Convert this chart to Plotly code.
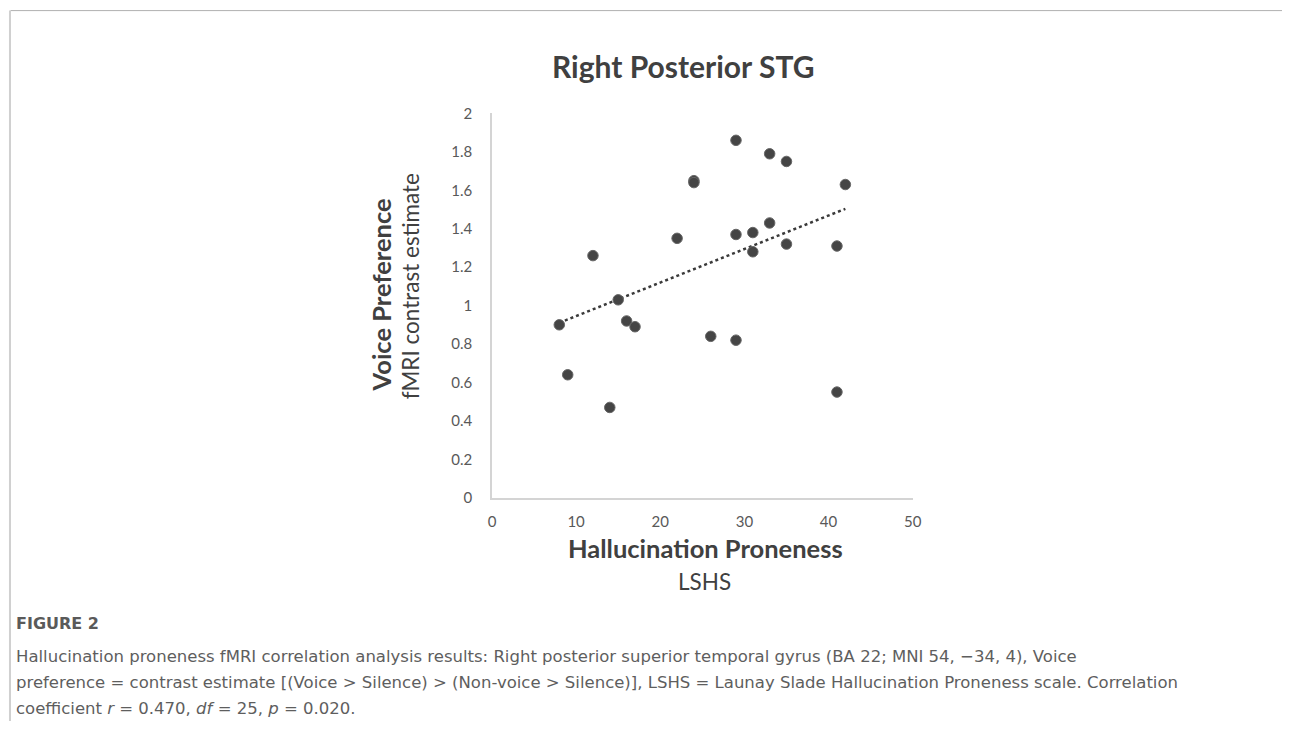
import plotly.graph_objects as go

W, H = 1291, 729

# ---- data ----
lshs = [8, 9, 12, 14, 15, 16, 17, 22, 24, 24, 26, 29, 29, 29, 31, 31, 33, 33, 35, 35, 41, 41, 42]
voice_pref = [0.90, 0.64, 1.26, 0.47, 1.03, 0.92, 0.89, 1.35, 1.65, 1.64, 0.84, 1.86, 1.37, 0.82,
              1.38, 1.28, 1.79, 1.43, 1.75, 1.32, 1.31, 0.55, 1.63]
trend_x = [8, 42]
trend_slope = 0.01744
trend_intercept = 0.771
x_ticks = [0, 10, 20, 30, 40, 50]
y_ticks = [0, 0.2, 0.4, 0.6, 0.8, 1, 1.2, 1.4, 1.6, 1.8, 2]
y_tick_text = ["0", "0.2", "0.4", "0.6", "0.8", "1", "1.2", "1.4", "1.6", "1.8", "2"]

title_text = "Right Posterior STG"
caption_head = "FIGURE 2"
caption_lines = [
    "Hallucination proneness fMRI correlation analysis results: Right posterior superior temporal gyrus (BA 22; MNI 54, \u221234, 4), Voice",
    "preference = contrast estimate [(Voice &gt; Silence) &gt; (Non-voice &gt; Silence)], LSHS = Launay Slade Hallucination Proneness scale. Correlation",
    "coefficient <i>r</i> = 0.470, <i>df</i> = 25, <i>p</i> = 0.020.",
]

# mapping from wanted picture pixel to paper fraction (compensates the page offset)
SX, OX = 0.993, 1.5
SY, OY = 0.977, 8.4


def X(t):
    return ((t - OX) / SX) / W


def Y(t):
    return 1 - ((t - OY) / SY) / H


trend_y = [trend_intercept + trend_slope * v for v in trend_x]

CHART_FONT = "Lato"
DARK = "#404040"
fig = go.Figure()
fig.add_trace(go.Scatter(
    x=trend_x, y=trend_y, mode="lines",
    line=dict(color="#3a3a3a", width=2.5, dash="dot"),
    hoverinfo="skip", showlegend=False,
))
fig.add_trace(go.Scatter(
    x=lshs, y=voice_pref, mode="markers",
    marker=dict(color="#454545", size=10.5, line=dict(color="#666666", width=1)),
    showlegend=False,
))

fig.update_layout(
    width=W, height=H,
    margin=dict(l=0, r=0, t=0, b=0),
    paper_bgcolor="white", plot_bgcolor="white",
    xaxis=dict(
        domain=[X(491), X(913)], range=[0, 50],
        tickvals=x_ticks, showgrid=False, zeroline=False,
        showline=True, linecolor="#d4d4d4", linewidth=1.5,
        ticks="outside", ticklen=0, ticklabelstandoff=9,
        tickfont=dict(family=CHART_FONT, size=15, color="#595959"),
    ),
    yaxis=dict(
        domain=[Y(497), Y(112)], range=[0, 2],
        tickvals=y_ticks, ticktext=y_tick_text, showgrid=False, zeroline=False,
        showline=True, linecolor="#d4d4d4", linewidth=1.5,
        ticks="outside", ticklen=0, ticklabelstandoff=15,
        tickfont=dict(family=CHART_FONT, size=15, color="#595959"),
    ),
    shapes=[
        dict(type="line", xref="paper", yref="paper", x0=X(8), x1=1, y0=Y(9), y1=Y(9),
             line=dict(color="#b0b0b0", width=1)),
        dict(type="line", xref="paper", yref="paper", x0=X(7.5), x1=X(7.5), y0=Y(9), y1=0,
             line=dict(color="#d0d0d0", width=2)),
    ],
)

ann = []
ann.append(dict(text="<b>" + title_text + "</b>", x=X(683), y=Y(64),
                font=dict(family=CHART_FONT, size=30, color=DARK)))
ann.append(dict(text="<b>Voice Preference</b>", x=X(380), y=Y(294), textangle=-90,
                font=dict(family=CHART_FONT, size=25.5, color=DARK)))
ann.append(dict(text="fMRI contrast estimate", x=X(409), y=Y(285), textangle=-90,
                font=dict(family=CHART_FONT, size=22.5, color=DARK)))
ann.append(dict(text="<b>Hallucination Proneness</b>", x=X(705), y=Y(547),
                font=dict(family=CHART_FONT, size=25.5, color=DARK)))
ann.append(dict(text="LSHS", x=X(704), y=Y(581),
                font=dict(family=CHART_FONT, size=22.5, color=DARK)))
for a in ann:
    a.update(xref="paper", yref="paper", xanchor="center", yanchor="middle", showarrow=False)

CAP_FONT = "DejaVu Sans"
cap = [dict(text="<b>" + caption_head + "</b>", x=X(12), y=Y(623),
            font=dict(family=CAP_FONT, size=16, color="#5a5a5a"))]
for i, line in enumerate(caption_lines):
    cap.append(dict(text=line, x=X(12), y=Y(656 + 26 * i),
                    font=dict(family=CAP_FONT, size=16.5, color="#5e5e5e")))
for a in cap:
    a.update(xref="paper", yref="paper", xanchor="left", yanchor="middle", showarrow=False)

fig.update_layout(annotations=ann + cap)
fig.write_html(
    "out.html",
    config={"displayModeBar": False},
    post_script="document.body.style.margin='0';document.body.style.overflow='hidden';",
)
